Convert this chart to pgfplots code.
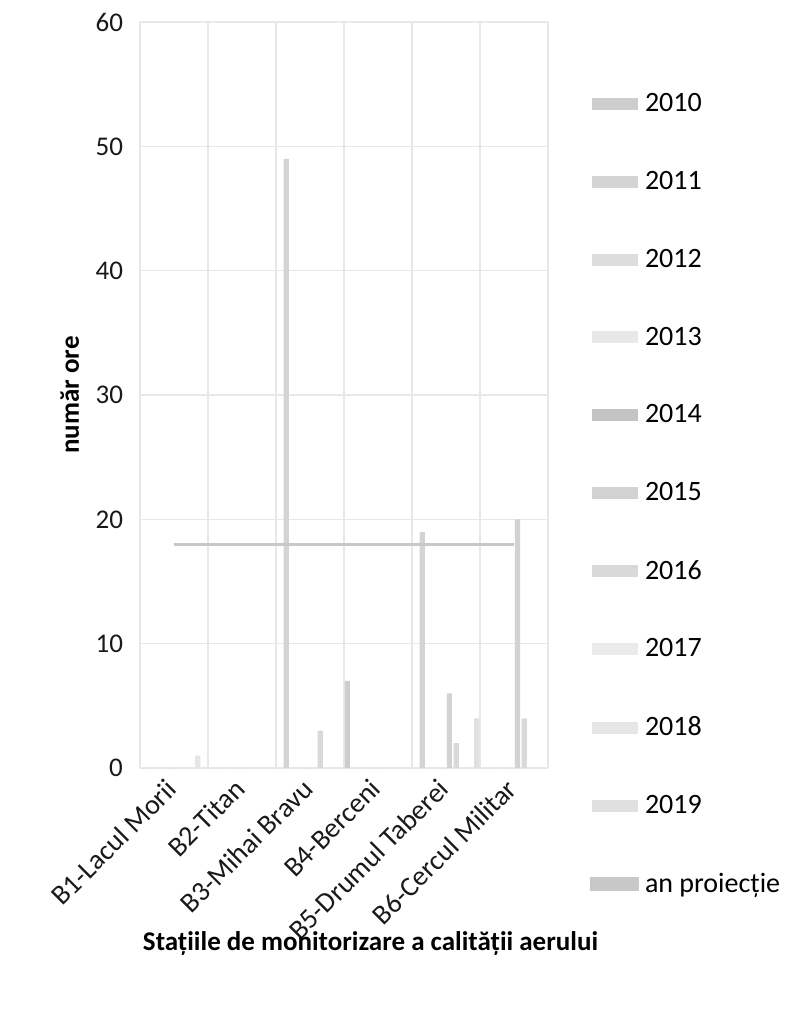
\documentclass[border=0pt]{standalone}
\usepackage{fontspec}
\setmainfont{Carlito}
\usepackage{pgfplots}
\pgfplotsset{compat=1.18}
\usepackage{pgfplotstable}

\definecolor{gridgray}{HTML}{E8E8E8}
\definecolor{c2010}{HTML}{CDCDCD}
\definecolor{c2011}{HTML}{D4D4D4}
\definecolor{c2012}{HTML}{DDDDDD}
\definecolor{c2013}{HTML}{E8E8E8}
\definecolor{c2014}{HTML}{C4C4C4}
\definecolor{c2015}{HTML}{D2D2D2}
\definecolor{c2016}{HTML}{D9D9D9}
\definecolor{c2017}{HTML}{EBEBEB}
\definecolor{c2018}{HTML}{E6E6E6}
\definecolor{c2019}{HTML}{E0E0E0}
\definecolor{cproj}{HTML}{C8C8C8}

\pgfplotstableread{
x y2010 y2011 y2012 y2013 y2014 y2015 y2016 y2017 y2018 y2019 proj
0 0 0 0 0 0 0 0 0 1 0 18
1 0 0 0 0 0 0 0 0 0 0 18
2 0 49 0 0 0 0 3 0 0 0 18
3 7 0 0 0 0 0 0 0 0 0 18
4 0 19 0 0 0 6 2 0 0 4 18
5 0 0 0 0 0 20 4 0 0 0 18
}\datatable

\pgfplotsset{
  ser/.style n args={2}{ybar, bar width=2.6pt, bar shift=#2, fill=#1, draw=none,
    legend image code/.code={\fill[#1] (0pt,-3pt) rectangle (23pt,3pt);}},
}

\begin{document}
\begin{tikzpicture}
\path[use as bounding box] (-70pt,-124.5pt) rectangle (327.5pt,384pt);
\begin{axis}[
  at={(0,0)}, anchor=south west,
  scale only axis, width=204pt, height=373pt,
  xmin=-0.5, xmax=5.5, ymin=0, ymax=60,
  xtick={0,1,2,3,4,5},
  xticklabels={B1-Lacul Morii, B2-Titan, B3-Mihai Bravu, B4-Berceni, B5-Drumul Taberei, B6-Cercul Militar},
  minor xtick={-0.5,0.5,1.5,2.5,3.5,4.5,5.5},
  ytick={0,10,20,30,40,50,60},
  xminorgrids=true, ymajorgrids=true, xmajorgrids=false,
  grid style={draw=gridgray, line width=0.7pt},
  minor grid style={draw=gridgray, line width=0.7pt},
  axis line style={draw=none},
  major tick length=0pt, minor tick length=0pt,
  /pgf/number format/assume math mode=true,
  yticklabel style={font=\fontsize{13.5}{16}\selectfont, text=black!90, xshift=-5pt},
  xticklabel style={font=\fontsize{14}{16}\selectfont, text=black!90, anchor=east, inner sep=0pt, xshift=-1pt, yshift=-8pt, rotate=45},
  ylabel={\textbf{număr ore}},
  ylabel style={font=\fontsize{13.5}{16}\selectfont, at={(axis description cs:-0.172,0.5)}, anchor=center},
  xlabel={\textbf{Stațiile de monitorizare a calității aerului}},
  xlabel style={font=\fontsize{13.5}{16}\selectfont, at={(axis description cs:0.565,-0.2346)}, anchor=center},
  legend cell align=left,
  legend style={draw=none, fill=none, at={(axis description cs:1.103,0.91)}, anchor=north west,
    font=\fontsize{14}{16.8}\selectfont, row sep=24.3pt, inner sep=0pt,
    /tikz/every odd column/.append style={column sep=1pt}},
]
\addplot[ser={c2010}{-15.3pt}] table[x=x,y=y2010]{\datatable};
\addlegendentry{2010}
\addplot[ser={c2011}{-11.9pt}] table[x=x,y=y2011]{\datatable};
\addlegendentry{2011}
\addplot[ser={c2012}{-8.5pt}] table[x=x,y=y2012]{\datatable};
\addlegendentry{2012}
\addplot[ser={c2013}{-5.1pt}] table[x=x,y=y2013]{\datatable};
\addlegendentry{2013}
\addplot[ser={c2014}{-1.7pt}] table[x=x,y=y2014]{\datatable};
\addlegendentry{2014}
\addplot[ser={c2015}{1.7pt}] table[x=x,y=y2015]{\datatable};
\addlegendentry{2015}
\addplot[ser={c2016}{5.1pt}] table[x=x,y=y2016]{\datatable};
\addlegendentry{2016}
\addplot[ser={c2017}{8.5pt}] table[x=x,y=y2017]{\datatable};
\addlegendentry{2017}
\addplot[ser={c2018}{11.9pt}] table[x=x,y=y2018]{\datatable};
\addlegendentry{2018}
\addplot[ser={c2019}{15.3pt}] table[x=x,y=y2019]{\datatable};
\addlegendentry{2019}
\addplot[color=cproj, line width=1.3pt, mark=none,
  legend image code/.code={\fill[cproj] (0pt,-3pt) rectangle (23pt,3pt);}]
  table[x=x,y=proj]{\datatable};
\addlegendentry{an proiecție}
\end{axis}
\end{tikzpicture}
\end{document}
